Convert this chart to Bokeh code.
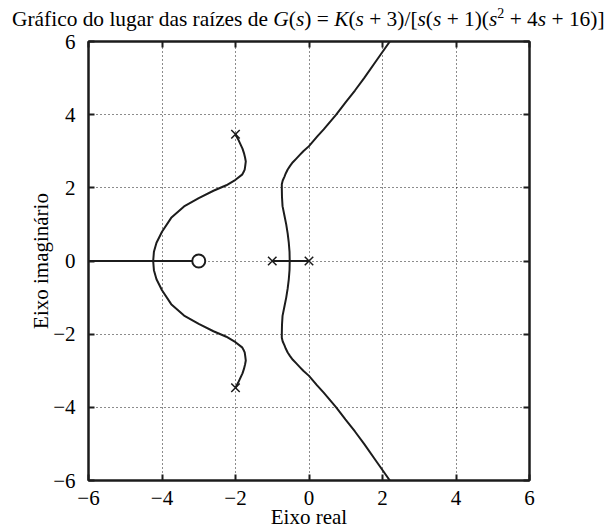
from bokeh.plotting import figure
from bokeh.models import LinearAxis, FixedTicker, Div
from bokeh.layouts import column
from bokeh.embed import file_html
from bokeh.resources import INLINE

# ---- root locus of G(s) = K(s+3)/[s(s+1)(s^2+4s+16)] ----
# open-loop poles and zero
pole_re = [0.0, -1.0, -2.0, -2.0]
pole_im = [0.0, 0.0, 3.464, -3.464]
zero_re = [-3.0]
zero_im = [0.0]

# branch leaving the pole at -2+j3.46 and reaching the real axis at -4.24
left_up_re = [-2.00, -1.93, -1.87, -1.81, -1.77, -1.74, -1.72, -1.735, -1.75, -1.78,
              -1.82, -2.00, -2.25, -2.60, -3.00, -3.40, -3.75, -4.00, -4.15, -4.22, -4.24]
left_up_im = [3.464, 3.33, 3.20, 3.07, 2.95, 2.83, 2.72, 2.60, 2.50, 2.43,
              2.36, 2.22, 2.07, 1.92, 1.72, 1.49, 1.18, 0.80, 0.50, 0.25, 0.0]
left_dn_re = [-2.00, -1.93, -1.87, -1.81, -1.77, -1.74, -1.72, -1.735, -1.75, -1.78,
              -1.82, -2.00, -2.25, -2.60, -3.00, -3.40, -3.75, -4.00, -4.15, -4.22, -4.24]
left_dn_im = [-3.464, -3.33, -3.20, -3.07, -2.95, -2.83, -2.72, -2.60, -2.50, -2.43,
              -2.36, -2.22, -2.07, -1.92, -1.72, -1.49, -1.18, -0.80, -0.50, -0.25, 0.0]

# branch leaving the breakaway point at -0.525 towards the 60 deg asymptote
right_up_re = [-0.525, -0.53, -0.55, -0.58, -0.62, -0.67, -0.72, -0.735, -0.74, -0.74,
               -0.715, -0.67, -0.63, -0.58, -0.515, -0.44, -0.345, -0.25, -0.155, 0.0,
               0.22, 0.40, 0.74, 0.99, 1.25, 1.50, 1.85, 2.20]
right_up_im = [0.0, 0.25, 0.5, 0.75, 1.0, 1.25, 1.5, 1.75, 2.0, 2.1,
               2.2, 2.3, 2.4, 2.5, 2.6, 2.7, 2.8, 2.9, 3.0, 3.14,
               3.4, 3.6, 4.0, 4.33, 4.66, 5.0, 5.5, 6.0]
right_dn_re = [-0.525, -0.53, -0.55, -0.58, -0.62, -0.67, -0.72, -0.735, -0.74, -0.74,
               -0.715, -0.67, -0.63, -0.58, -0.515, -0.44, -0.345, -0.25, -0.155, 0.0,
               0.22, 0.40, 0.74, 0.99, 1.25, 1.50, 1.85, 2.20]
right_dn_im = [0.0, -0.25, -0.5, -0.75, -1.0, -1.25, -1.5, -1.75, -2.0, -2.1,
               -2.2, -2.3, -2.4, -2.5, -2.6, -2.7, -2.8, -2.9, -3.0, -3.14,
               -3.4, -3.6, -4.0, -4.33, -4.66, -5.0, -5.5, -6.0]

# real-axis segments of the locus
real_seg1_re = [-6.0, -3.0]
real_seg2_re = [-1.0, 0.0]

tick_values = [-6, -4, -2, 0, 2, 4, 6]
tick_labels = ["\u22126", "\u22124", "\u22122", "0", "2", "4", "6"]

# ---- page geometry (pixels) ----
W, H = 610, 531
TITLE_H = 26
LEFT, RIGHT, TOP, BOTTOM = 88, 529, 41, 480
FONT = "Liberation Serif"
INK = "#1c1c1c"

# ---- title: symbols in italics, exponent raised ----
title_html = (
    "<div style=\"font-family:'Liberation Serif',serif; font-size:21.4px; color:black;"
    " white-space:nowrap; line-height:21px; padding-left:12px; padding-top:9px;\">"
    "Gr\u00e1fico do lugar das ra\u00edzes de "
    "<i>G</i>(<i>s</i>) = <i>K</i>(<i>s</i> + 3)/[<i>s</i>(<i>s</i> + 1)(<i>s</i>"
    "<span style=\"position:relative; top:-8px; font-size:14px;\">2</span>"
    " + 4<i>s</i> + 16)]</div>"
)
title = Div(text=title_html, width=W, height=TITLE_H, margin=(0, 0, 0, 0),
            styles={"overflow": "visible"})

# ---- main plot (transparent border so the title's descenders stay visible) ----
p = figure(width=W, height=H - TITLE_H, x_range=(-6, 6), y_range=(-6, 6),
           output_backend="svg", toolbar_location=None, title=None,
           min_border_left=LEFT, min_border_right=W - RIGHT,
           min_border_top=TOP - TITLE_H, min_border_bottom=H - BOTTOM,
           margin=(0, 0, 0, 0))
p.background_fill_color = "white"
p.border_fill_color = None
p.outline_line_color = INK
p.outline_line_width = 2

ticker = FixedTicker(ticks=tick_values)
overrides = {v: t for v, t in zip(tick_values, tick_labels)}

for ax in (p.xaxis[0], p.yaxis[0]):
    ax.ticker = ticker
    ax.major_label_overrides = overrides
    ax.major_tick_in = 6
    ax.major_tick_out = 0
    ax.minor_tick_line_color = None
    ax.axis_line_width = 2
    ax.axis_line_color = INK
    ax.major_tick_line_width = 2
    ax.major_tick_line_color = INK
    ax.major_label_text_font = FONT
    ax.major_label_text_font_size = "21px"
    ax.major_label_text_color = "black"
    ax.axis_label_text_font = FONT
    ax.axis_label_text_font_size = "21px"
    ax.axis_label_text_font_style = "normal"
    ax.axis_label_text_color = "black"

p.xaxis.axis_label = "Eixo real"
p.yaxis.axis_label = "Eixo imagin\u00e1rio"
p.xaxis.major_label_standoff = 10
p.xaxis.axis_label_standoff = -3
p.yaxis.major_label_standoff = 13
p.yaxis.axis_label_standoff = -3

for side in ("right", "above"):
    ax = LinearAxis(ticker=ticker, major_tick_in=6, major_tick_out=0,
                    minor_tick_line_color=None, axis_line_width=2,
                    axis_line_color=INK, major_tick_line_width=2,
                    major_tick_line_color=INK, major_label_text_color=None,
                    major_label_text_font_size="1px", major_label_standoff=0)
    p.add_layout(ax, side)

p.grid.ticker = ticker
p.grid.grid_line_color = "black"
p.grid.grid_line_dash = "1 3"
p.grid.grid_line_width = 1
p.grid.grid_line_alpha = 0.9

# locus branches
lw = 2
p.line(real_seg1_re, [0, 0], line_color=INK, line_width=lw)
p.line(real_seg2_re, [0, 0], line_color=INK, line_width=lw)
p.line(left_up_re, left_up_im, line_color=INK, line_width=lw)
p.line(left_dn_re, left_dn_im, line_color=INK, line_width=lw)
p.line(right_up_re, right_up_im, line_color=INK, line_width=lw)
p.line(right_dn_re, right_dn_im, line_color=INK, line_width=lw)

# poles (x) and zero (o)
p.scatter(pole_re, pole_im, marker="x", size=12, line_color=INK, line_width=1.5)
p.scatter(zero_re, zero_im, marker="circle", size=13, fill_color="white",
          line_color=INK, line_width=2)

layout = column(title, p, spacing=0, margin=(0, 0, 0, 0))
open("out.html", "w").write(file_html(layout, INLINE))
